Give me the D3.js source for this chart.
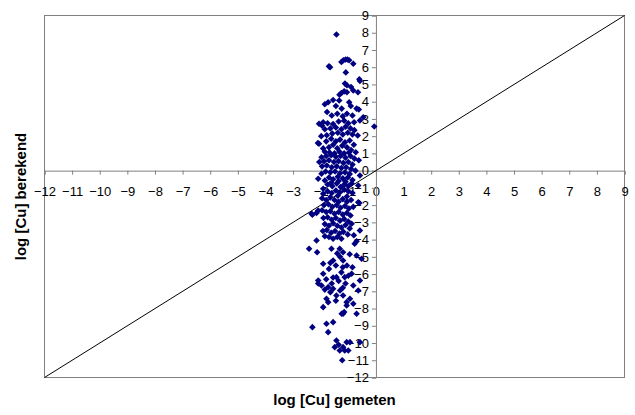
<!DOCTYPE html>
<html><head><meta charset="utf-8">
<script src="https://cdn.jsdelivr.net/npm/d3@7"></script>
<style>body{margin:0;background:#fff}svg{display:block}</style>
</head><body><svg id="c" width="635" height="415"></svg>
<script>
const xTicks = [-12,-11,-10,-9,-8,-7,-6,-5,-4,-3,-2,-1,0,1,2,3,4,5,6,7,8,9];
const yTicks = [-12,-11,-10,-9,-8,-7,-6,-5,-4,-3,-2,-1,0,1,2,3,4,5,6,7,8,9];
const axisDomain = [-12, 9];
const xTitle = "log [Cu] gemeten";
const yTitle = "log [Cu] berekend";
const gemeten = [
-1.43,-1.70,-1.66,-1.25,-1.18,-1.10,-1.03,-0.97,-0.82,-1.09,-0.60,-0.58,-1.12,-1.05,-0.82,-0.90,-1.15,-1.25,-1.32,-1.05,-0.65,-1.73,-1.55,-1.33,-0.97,-0.91,-0.70,-0.62,-1.24,-1.45,-1.85,
-1.77,-1.91,-1.60,-1.40,-1.20,-1.05,-0.85,-0.46,-0.58,-0.79,-1.00,-1.15,-1.35,-1.55,-1.75,-1.95,-2.06,-1.85,-1.65,-1.45,-1.25,-1.10,-0.92,-0.78,-0.66,-0.85,-1.02,-1.20,-1.38,-1.58,-1.78,-1.98,-2.10,-2.06,-1.91,-1.80,-1.62,-1.45,-1.30,-1.12,-0.95,-0.80,-0.73,-0.90,-1.05,-1.22,-1.40,-1.55,-1.70,-1.85,-1.68,-1.50,-1.32,-1.15,-0.98,-0.06,
-1.97,-1.80,-1.62,-1.45,-1.28,-1.10,-0.92,-0.78,-0.62,-2.05,-1.88,-1.70,-1.52,-1.35,-1.18,-1.00,-0.85,-1.95,-1.78,-1.60,-1.42,-1.25,-1.08,-0.90,-0.74,-1.97,-1.82,-1.65,-1.48,-1.30,-1.12,-0.95,-0.58,-2.09,-1.85,-1.70,-1.55,-1.38,-1.20,-1.02,-0.85,-0.64,-1.91,-1.75,-1.58,-1.42,-1.28,-1.15,-1.00,-0.88,-1.35,-1.10,-1.62,
-1.91,-1.75,-1.60,-1.45,-1.30,-1.15,-1.00,-0.85,-1.38,-1.05,-2.09,-2.33,-2.30,-2.15,-0.64,-0.60,-1.95,-1.80,-1.65,-1.50,-1.35,-1.20,-1.05,-0.90,-1.88,-1.72,-1.58,-1.42,-1.28,-1.12,-0.98,-0.82,-1.95,-1.80,-1.65,-1.50,-1.35,-1.20,-1.05,-0.92,-1.90,-1.75,-1.60,-1.45,-1.30,-1.15,-1.00,-0.88,-1.85,-1.70,-1.55,-1.40,-1.25,-1.10,-0.95,-0.58,-1.92,-1.78,-1.62,-1.48,-1.32,-1.18,-1.02,-0.80,-1.70,-1.55,-1.40,-1.25,-1.85,-0.70,
-0.77,-2.15,-2.42,-2.13,-1.61,-1.31,-1.19,-0.70,-0.52,-1.55,-1.19,-1.91,-1.30,-1.45,-1.20,-1.05,-1.70,-1.91,-1.43,-1.13,-0.88,-0.58,-2.09,-2.09,-1.97,-1.73,-1.55,-0.82,-0.64,-1.43,-1.19,-1.79,-0.94,-1.91,-0.82,-1.06,-1.73,-1.06,-1.85,-1.65,-1.30,-1.60,-1.25,-1.35,-1.00,-1.55,-1.80,-1.65,-1.40,-0.95,-0.85,-1.10,-1.45,-1.20,
-1.19,-1.24,-1.15,-0.70,-1.79,-1.55,-1.73,-2.30,-1.43,-1.49,-1.31,-1.19,-1.13,-1.00,-0.94,-1.06,-0.58,-1.22,-1.35
];
const berekend = [
7.90,6.05,6.00,6.30,6.40,6.45,6.45,6.40,6.20,5.70,5.30,5.20,5.05,4.95,4.65,4.85,4.60,4.50,4.40,4.55,4.55,3.97,4.10,4.07,3.97,3.75,3.60,3.55,3.60,3.75,3.85,
3.40,2.81,3.20,3.30,3.15,3.30,3.20,3.10,2.91,2.81,2.75,2.90,2.85,2.70,2.75,2.60,2.72,2.40,2.45,2.50,2.40,2.55,2.45,2.35,2.04,2.10,2.20,2.10,2.20,2.15,2.05,2.00,1.60,1.56,1.29,1.70,1.85,1.70,1.80,1.65,1.75,1.50,1.07,1.20,1.35,1.45,1.30,1.50,1.35,1.10,1.05,1.00,1.10,1.00,1.05,2.56,
0.78,0.85,0.90,0.80,0.85,0.75,0.85,0.70,0.60,0.50,0.55,0.60,0.50,0.55,0.45,0.50,0.35,0.25,0.30,0.20,0.25,0.15,0.20,0.10,0.00,-0.18,-0.05,-0.10,-0.05,-0.15,-0.10,-0.20,-0.28,-0.47,-0.57,-0.40,-0.50,-0.35,-0.45,-0.40,-0.55,-0.86,-1.05,-0.80,-0.90,-0.75,-0.95,-0.80,-0.90,-0.75,-0.60,-0.65,-0.70,
-1.34,-1.20,-1.30,-1.15,-1.25,-1.10,-1.20,-1.30,-1.45,-1.50,-2.31,-2.50,-2.56,-2.45,-1.83,-1.88,-1.60,-1.70,-1.55,-1.70,-1.80,-1.65,-1.80,-1.70,-2.00,-1.95,-2.10,-2.00,-2.15,-2.05,-2.20,-2.10,-2.30,-2.40,-2.35,-2.50,-2.40,-2.55,-2.45,-2.60,-2.75,-2.70,-2.85,-2.75,-2.90,-2.80,-2.95,-3.08,-3.10,-3.20,-3.05,-3.20,-3.30,-3.15,-3.35,-3.47,-3.50,-3.45,-3.60,-3.50,-3.65,-3.55,-3.70,-3.75,-3.85,-3.95,-3.85,-3.95,-3.80,-4.10,
-4.24,-4.05,-4.53,-4.73,-4.53,-4.53,-4.73,-4.92,-5.11,-5.21,-5.21,-5.40,-5.00,-5.50,-5.60,-5.50,-5.70,-5.98,-6.18,-6.18,-5.98,-6.37,-6.37,-6.55,-6.66,-6.76,-6.85,-6.66,-6.95,-7.24,-7.24,-7.43,-7.43,-7.92,-7.72,-7.82,-7.63,-7.63,-6.90,-7.05,-6.95,-6.55,-5.90,-6.40,-6.10,-6.20,-6.30,-5.35,-4.80,-4.85,-5.60,-6.55,-7.55,-6.80,
-8.30,-8.30,-8.20,-8.30,-8.88,-8.79,-9.37,-9.08,-9.85,-10.24,-10.43,-10.24,-10.43,-10.43,-9.95,-9.95,-9.95,-11.00,-10.10
];

const svg = d3.select("#c");
const pLeft = 44.5, pRight = 624.5, pTop = 15.5, pBottom = 377.5;
const x = d3.scaleLinear().domain(axisDomain).range([pLeft, pRight]);
const y = d3.scaleLinear().domain(axisDomain).range([pBottom, pTop]);
const gray = "#808080";
const font = "'Liberation Sans', Arial, sans-serif";

// plot border
svg.append("rect").attr("x", pLeft).attr("y", pTop).attr("width", pRight-pLeft).attr("height", pBottom-pTop)
  .attr("fill", "none").attr("stroke", gray).attr("stroke-width", 1);

// axes through origin
const gx = svg.append("g").attr("transform", `translate(0,${y(0)})`)
  .call(d3.axisBottom(x).tickValues(xTicks).tickSize(4).tickPadding(12).tickFormat(d3.format("d")));
const gy = svg.append("g").attr("transform", `translate(${x(0)},0)`)
  .call(d3.axisLeft(y).tickValues(yTicks).tickSize(4).tickPadding(3).tickFormat(d3.format("d")));
[gx, gy].forEach(g => {
  g.select(".domain").attr("stroke", gray);
  g.selectAll(".tick line").attr("stroke", gray);
  g.selectAll(".tick text").attr("fill", "#000").style("font-family", font).style("font-size", "13px");
});

// 1:1 line
svg.append("line").attr("x1", x(-12)).attr("y1", y(-12)).attr("x2", x(9)).attr("y2", y(9))
  .attr("stroke", "#000").attr("stroke-width", 1);

// points
const pts = gemeten.map((g, i) => [g, berekend[i]]);
svg.append("g").selectAll("path").data(pts).enter().append("path")
  .attr("transform", d => `translate(${x(d[0])},${y(d[1])})`)
  .attr("d", "M0,-3.3L3.3,0L0,3.3L-3.3,0Z")
  .attr("fill", "#000080");

// titles
svg.append("text").attr("x", 334.5).attr("y", 405).attr("text-anchor", "middle")
  .style("font-family", font).style("font-size", "15px").style("font-weight", "bold").text(xTitle);
svg.append("text").attr("transform", "translate(26,196.5) rotate(-90)").attr("text-anchor", "middle")
  .style("font-family", font).style("font-size", "15px").style("font-weight", "bold").text(yTitle);
</script></body></html>
